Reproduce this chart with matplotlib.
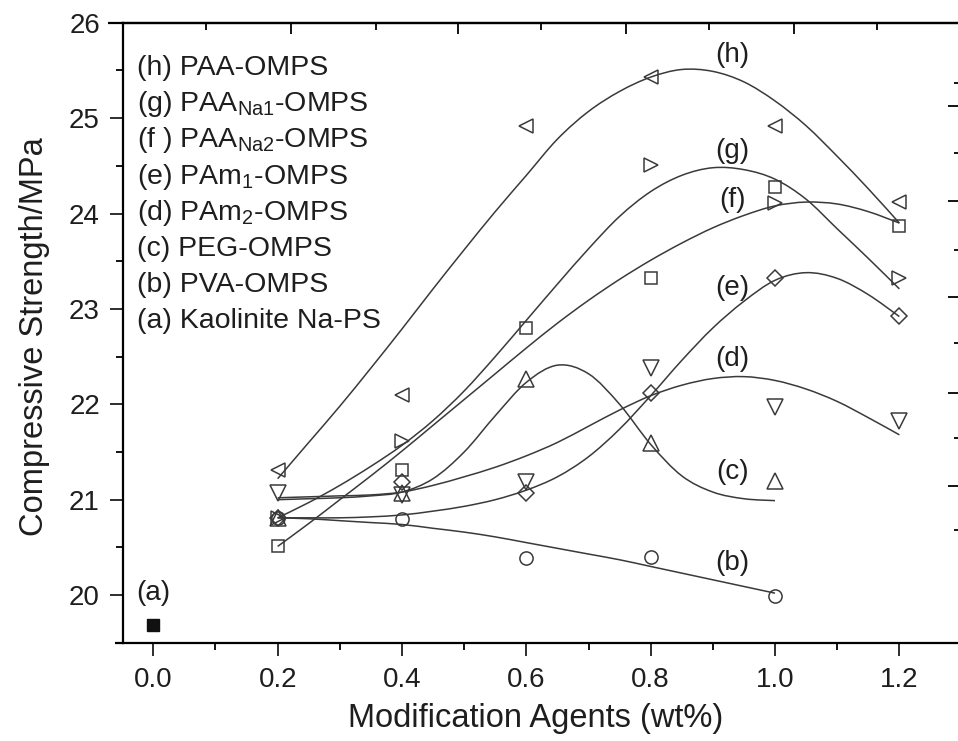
import matplotlib.pyplot as plt
from matplotlib.path import Path
from matplotlib.patches import PathPatch
from matplotlib.ticker import MultipleLocator, FixedLocator

plt.rcParams['font.family'] = ['Liberation Sans', 'DejaVu Sans']
plt.rcParams['mathtext.default'] = 'regular'

x_six = [0.2, 0.4, 0.6, 0.8, 1.0, 1.2]
x_five = [0.2, 0.4, 0.6, 0.8, 1.0]
g_x = [0.2, 0.4, 0.8, 1.0, 1.2]
h_pts = [21.31, 22.10, 24.92, 25.43, 24.92, 24.12]
g_pts = [20.81, 21.61, 24.51, 24.11, 23.32]
f_pts = [20.51, 21.31, 22.80, 23.32, 24.28, 23.87]
e_pts = [20.81, 21.19, 21.07, 22.12, 23.32, 22.93]
d_pts = [21.07, 21.05, 21.19, 22.38, 21.97, 21.82]
c_pts = [20.81, 21.07, 22.27, 21.59, 21.20]
b_pts = [20.81, 20.80, 20.39, 20.40, 19.99]
a_x = [0.0]
a_pts = [19.69]

# fitted curves (every 0.05)
fit_x = [0.20, 0.25, 0.30, 0.35, 0.40, 0.45, 0.50, 0.55, 0.60, 0.65, 0.70,
         0.75, 0.80, 0.85, 0.90, 0.95, 1.00, 1.05, 1.10, 1.15, 1.20]
h_fit = [21.22, 21.60, 21.98, 22.38, 22.79, 23.21, 23.62, 24.02, 24.40, 24.78, 25.07,
         25.28, 25.43, 25.51, 25.49, 25.38, 25.18, 24.92, 24.60, 24.26, 23.90]
g_fit = [20.81, 20.97, 21.15, 21.35, 21.57, 21.83, 22.14, 22.50, 22.88, 23.26, 23.63,
         23.97, 24.23, 24.40, 24.48, 24.46, 24.36, 24.15, 23.84, 23.53, 23.21]
f_fit = [20.51, 20.75, 21.00, 21.25, 21.51, 21.78, 22.05, 22.32, 22.59, 22.85, 23.09,
         23.31, 23.51, 23.69, 23.85, 23.98, 24.08, 24.12, 24.10, 24.02, 23.90]
e_fit = [20.81, 20.81, 20.81, 20.82, 20.84, 20.88, 20.93, 21.00, 21.10, 21.24, 21.45,
         21.74, 22.09, 22.46, 22.80, 23.08, 23.30, 23.38, 23.32, 23.15, 22.92]
d_fit = [21.02, 21.03, 21.04, 21.05, 21.08, 21.15, 21.24, 21.34, 21.46, 21.60, 21.77,
         21.94, 22.09, 22.20, 22.27, 22.29, 22.25, 22.16, 22.03, 21.86, 21.68]
c_fit = [21.00, 21.01, 21.02, 21.04, 21.08, 21.22, 21.50, 21.88, 22.23, 22.41, 22.32,
         22.00, 21.58, 21.25, 21.08, 21.01, 20.99]
b_fit = [20.81, 20.80, 20.78, 20.76, 20.74, 20.70, 20.66, 20.61, 20.55, 20.49, 20.43,
         20.37, 20.30, 20.23, 20.16, 20.09, 20.02]

legend_lines = ['(h) PAA-OMPS', '(g) PAA$_{Na1}$-OMPS', '(f ) PAA$_{Na2}$-OMPS',
                '(e) PAm$_{1}$-OMPS', '(d) PAm$_{2}$-OMPS', '(c) PEG-OMPS',
                '(b) PVA-OMPS', '(a) Kaolinite Na-PS']
curve_tags = ['(h)', '(g)', '(f)', '(e)', '(d)', '(c)', '(b)']
tag_y = [25.66, 24.66, 24.14, 23.22, 22.48, 21.29, 20.34]

lc = '#3a3a3a'
tc = '#1e1e1e'


def smooth_curve(xs, ys):
    # Catmull-Rom style cubic Bezier through the read points
    n = len(xs)
    verts = [(xs[0], ys[0])]
    codes = [Path.MOVETO]
    for i in range(n - 1):
        i0, i3 = max(i - 1, 0), min(i + 2, n - 1)
        c1 = (xs[i] + (xs[i + 1] - xs[i0]) / 6, ys[i] + (ys[i + 1] - ys[i0]) / 6)
        c2 = (xs[i + 1] - (xs[i3] - xs[i]) / 6, ys[i + 1] - (ys[i3] - ys[i]) / 6)
        verts += [c1, c2, (xs[i + 1], ys[i + 1])]
        codes += [Path.CURVE4] * 3
    return PathPatch(Path(verts, codes), fill=False, ec=lc, lw=1.1)


fig = plt.figure(figsize=(9.58, 7.41), dpi=100)
ax = fig.add_axes([0.1281, 0.1318, 0.8761, 0.8375])

for ys in [h_fit, g_fit, f_fit, e_fit, d_fit]:
    ax.add_patch(smooth_curve(fit_x, ys))
ax.add_patch(smooth_curve(fit_x[:17], c_fit))
ax.add_patch(smooth_curve(fit_x[:17], b_fit))

mk = dict(ls='none', mfc='none', mec=lc, mew=1.1)
ax.plot(x_six, h_pts, marker='<', ms=10.5, **mk)
ax.plot(g_x, g_pts, marker='>', ms=10.5, **mk)
ax.plot(x_six, f_pts, marker='s', ms=8.5, **mk)
ax.plot(x_six, e_pts, marker='D', ms=8.5, **mk)
ax.plot(x_six, d_pts, marker='v', ms=11, **mk)
ax.plot(x_five, c_pts, marker='^', ms=11, **mk)
ax.plot(x_five, b_pts, marker='o', ms=9.5, **mk)
ax.plot(a_x, a_pts, marker='s', ms=8.5, ls='none', color='#111111')

for tag, ty in zip(curve_tags, tag_y):
    ax.text(0.932, ty, tag, fontsize=20, ha='center', va='center', color=tc)
ax.text(0.0, 20.02, '(a)', fontsize=20, ha='center', va='center', color=tc)

for i, line in enumerate(legend_lines):
    ax.text(0.017, 0.9157 - i * 0.05832, line, transform=ax.transAxes, fontsize=20.5,
            ha='left', va='baseline', color=tc)

ax.set_xlim(-0.0492, 1.3008)
ax.set_ylim(19.494, 26.0)
ax.xaxis.set_major_locator(MultipleLocator(0.2))
ax.xaxis.set_minor_locator(MultipleLocator(0.1))
ax.yaxis.set_major_locator(MultipleLocator(1))
ax.yaxis.set_minor_locator(MultipleLocator(0.5))
ax.xaxis.set_major_formatter(plt.FormatStrFormatter('%.1f'))
ax.tick_params(which='major', direction='out', width=1.3, labelsize=20, colors=tc)
ax.tick_params(axis='x', which='major', length=9, pad=8)
ax.tick_params(axis='y', which='major', length=9.4, pad=7)
ax.tick_params(which='minor', direction='out', length=4.7, width=1.3)

# inward ticks on the top and right frame (offset, as in the original scan)
top = ax.secondary_xaxis('top')
top.xaxis.set_major_locator(FixedLocator([0.2215, 0.4906, 0.7608, 1.030]))
top.xaxis.set_minor_locator(FixedLocator([0.0847, 0.358, 0.624, 0.894, 1.164]))
top.tick_params(which='major', direction='in', length=8, width=1.3, labeltop=False)
top.tick_params(which='minor', direction='in', length=5, width=1.3)
right = ax.secondary_yaxis('right')
right.yaxis.set_major_locator(FixedLocator([25.13, 24.13, 23.13, 22.12, 21.14]))
right.yaxis.set_minor_locator(FixedLocator([25.37, 24.63, 23.62, 22.64, 21.65, 20.68]))
right.tick_params(which='major', direction='in', length=10, width=1.3, labelright=False)
right.tick_params(which='minor', direction='in', length=6, width=1.3)
for sp in ax.spines.values():
    sp.set_linewidth(1.6)
top.spines['top'].set_linewidth(1.6)
right.spines['right'].set_linewidth(1.6)

# frame lines run a little past the left spine
ax.plot([-0.0175, 0], [1, 1], transform=ax.transAxes, color='black', lw=1.6,
        clip_on=False, solid_capstyle='butt')
ax.plot([-0.0092, 0], [0, 0], transform=ax.transAxes, color='black', lw=1.6,
        clip_on=False, solid_capstyle='butt')

ax.set_xlabel('Modification Agents (wt%)', fontsize=23.5, color=tc, va='center')
ax.xaxis.set_label_coords(0.4924, -0.1204)
ax.set_ylabel('Compressive Strength/MPa', fontsize=23.5, color=tc, va='center')
ax.yaxis.set_label_coords(-0.1057, 0.4936)

fig.savefig('out.png', dpi=100)
